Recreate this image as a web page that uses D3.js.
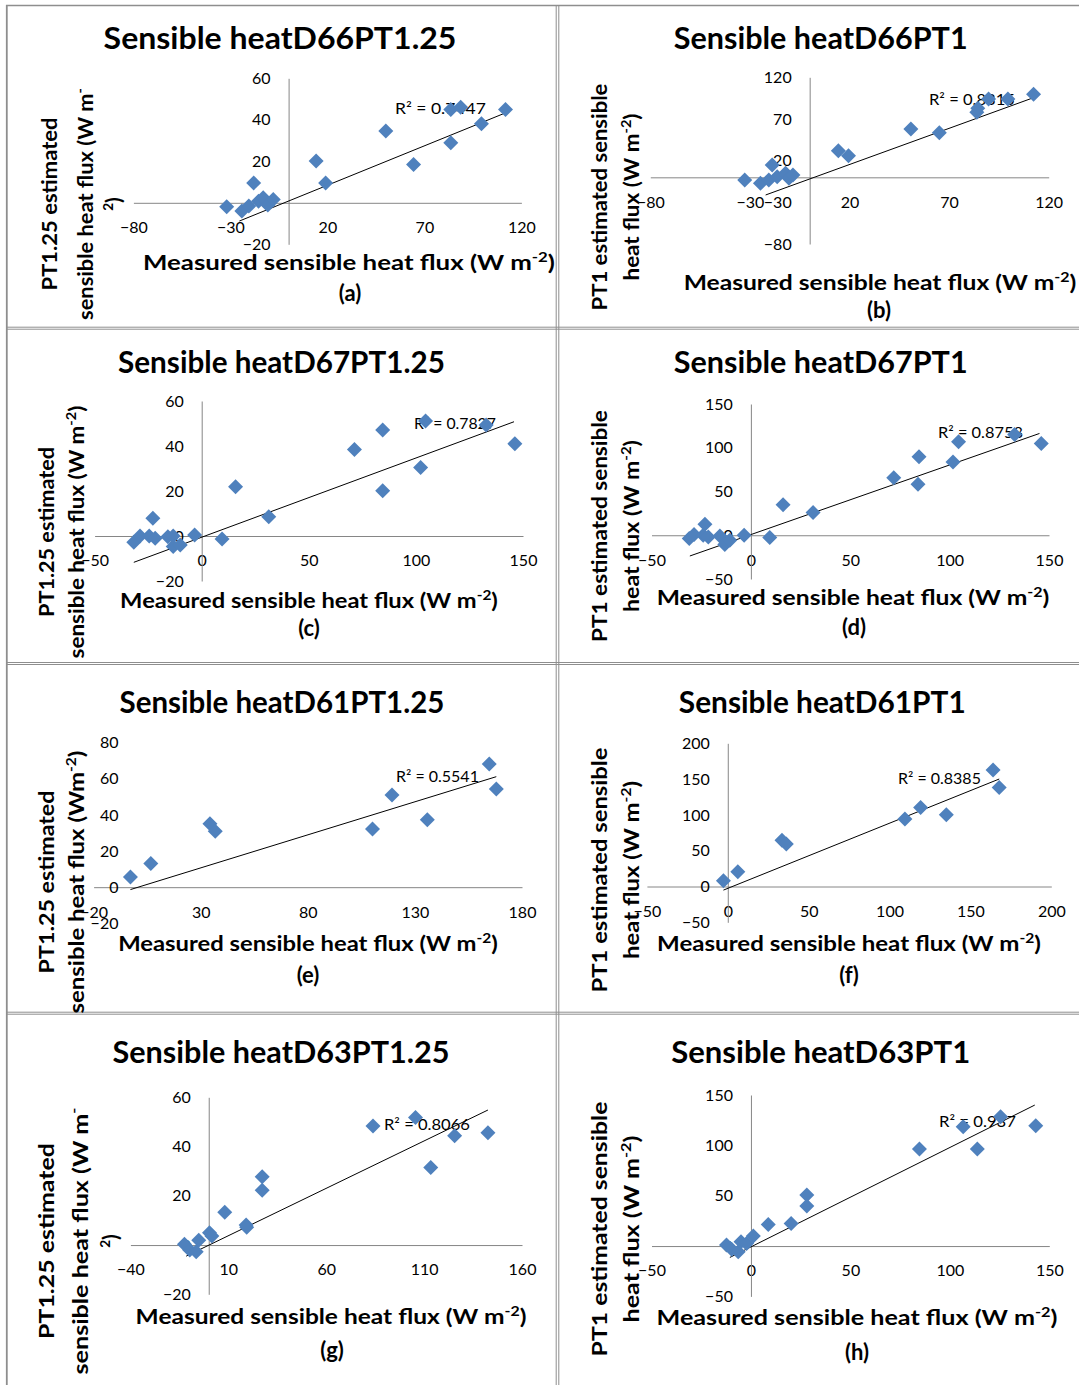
<!DOCTYPE html>
<html>
<head>
<meta charset="utf-8">
<script src="https://cdn.jsdelivr.net/npm/d3@7"></script>
<style>
    body { margin: 0; background: #fff; }
    svg { display: block; }
    text { font-family: Lato, "Open Sans", sans-serif; fill: #000; }
</style>
</head>
<body>
<svg id="chart" width="1079" height="1385"></svg>
<script>
(function () {
    'use strict';

    // measured (x) vs PT-estimated (y) sensible heat flux, W m-2
    var d66Pt125X = [-31.9, -24.1, -20.5, -18.0, -15.5, -13.1, -10.7, -7.9, 14.2, 19.1, 50.1, 64.4, 83.6, 83.6, 88.7, 99.4, 111.8];
    var d66Pt125Y = [-1.9, -4.0, -1.6, 9.6, 0.8, 2.4, -1.1, 1.6, 20.1, 9.6, 34.6, 18.5, 28.9, 45.0, 46.1, 38.1, 45.0];
    var d66Pt1X = [-32.6, -24.7, -20.5, -18.8, -16.3, -12.1, -10.4, -8.4, 14.4, 19.5, 50.8, 65.1, 83.9, 84.4, 89.8, 99.5, 112.4];
    var d66Pt1Y = [-3.2, -7.2, -3.2, 14.8, 0.8, 4.8, -1.2, 2.8, 32, 26, 58, 53.6, 78, 82.8, 94, 94, 99.6];
    var d67Pt125X = [-31.7, -28.8, -24.5, -22.8, -21.7, -15.8, -13.3, -13.3, -10, -3.3, 9.5, 15.8, 31.3, 71.3, 84.5, 84.5, 102.2, 104.5, 132.8, 146.2];
    var d67Pt125Y = [-2.8, 0, 0, 7.9, -1, -0.3, 0, -4.7, -4, 0.4, -1.3, 21.9, 8.6, 38.5, 47.1, 20.1, 30.4, 51.1, 49.3, 41];
    var d67Pt1X = [-31, -28.6, -23.1, -24, -21.4, -15.6, -13.1, -10.6, -3.4, 9.5, 16.2, 31.3, 71.9, 84.6, 84.1, 101.7, 104.5, 132.7, 146.1];
    var d67Pt1Y = [-3.8, 0.8, 12.6, 0, -1.9, -0.8, -10.7, -5.7, 0, -2.7, 35, 25.9, 65.8, 89.6, 58.2, 83.7, 106.8, 115.1, 104.8];
    var d61Pt125X = [-2.8, 6.7, 34.3, 36.8, 110.2, 119.3, 135.8, 164.7, 168];
    var d61Pt125Y = [5.7, 13.1, 35.1, 30.9, 32.2, 51.1, 37.3, 68.2, 54.4];
    var d61Pt1X = [-2.7, 6.2, 33.5, 36.2, 109.5, 119.2, 135.1, 164, 167.8];
    var d61Pt1Y = [7.9, 20.5, 64.7, 59.2, 94.1, 110.4, 100.1, 162.6, 138.3];
    var d63Pt125X = [-12.4, -9.7, -6.4, -5.1, 0.4, 1.6, 8.2, 19.1, 19.4, 27.3, 27.3, 83.9, 105.6, 113.4, 125.6, 142.6];
    var d63Pt125Y = [0.3, -2, -2.7, 2, 5, 3.7, 13.3, 8.1, 7.2, 27.7, 22.3, 48.3, 51.8, 31.5, 44.4, 45.6];
    var d63Pt1X = [-12.3, -9.7, -6.4, -5, -2.2, 1.2, 8.7, 20.2, 28.1, 28.1, 84.7, 106.7, 113.8, 125.5, 143.2];
    var d63Pt1Y = [1, -3.3, -5.6, 4.3, 2.6, 9.9, 21.5, 22.5, 50.7, 39.7, 96.4, 118.5, 96.4, 128.5, 119.5];

    // linear trendlines: [slope, intercept, x from, x to]
    var trendLines = [
        [0.380, 0.85, -25.4, 111.8],
        [0.868, -2.0, -22.1, 113.8],
        [0.352, -0.54, -31.7, 145.8],
        [0.796, 0.74, -30.7, 145.2],
        [0.366, -0.3, -2.8, 168],
        [0.91, -2.6, -2.7, 167.8],
        [0.385, -0.07, -11.5, 142.6],
        [0.987, -0.84, -10.6, 142.7]
    ];
    var r2Labels = ["R² = 0.7447", "R² = 0.8315", "R² = 0.7827", "R² = 0.8758",
        "R² = 0.5541", "R² = 0.8385", "R² = 0.8066", "R² = 0.937"];

    // tick labels
    var xTicksA = [-80, -30, 20, 70, 120], yTicksA = [-20, 0, 20, 40, 60];
    var xTicksB = [-80, -30, 20, 70, 120], yTicksB = [-80, -30, 20, 70, 120];
    var xTicksC = [-50, 0, 50, 100, 150], yTicksC = [-20, 0, 20, 40, 60];
    var xTicksD = [-50, 0, 50, 100, 150], yTicksD = [-50, 0, 50, 100, 150];
    var xTicksE = [-20, 30, 80, 130, 180], yTicksE = [-20, 0, 20, 40, 60, 80];
    var xTicksF = [-50, 0, 50, 100, 150, 200], yTicksF = [-50, 0, 50, 100, 150, 200];
    var xTicksG = [-40, 10, 60, 110, 160], yTicksG = [-20, 0, 20, 40, 60];
    var xTicksH = [-50, 0, 50, 100, 150], yTicksH = [-50, 0, 50, 100, 150];

    var titles = ["Sensible heatD66PT1.25", "Sensible heatD66PT1", "Sensible heatD67PT1.25", "Sensible heatD67PT1",
        "Sensible heatD61PT1.25", "Sensible heatD61PT1", "Sensible heatD63PT1.25", "Sensible heatD63PT1"];
    var tags = ["(a)", "(b)", "(c)", "(d)", "(e)", "(f)", "(g)", "(h)"];
    var xTitle = "Measured sensible heat flux (W m^{-2})";
    var yTitles = [
        ["PT1.25 estimated", "sensible heat flux (W m^{-}", "^{2})"],
        ["PT1 estimated sensible", "heat flux (W m^{-2})"],
        ["PT1.25 estimated", "sensible heat flux (W m^{-2})"],
        ["PT1 estimated sensible", "heat flux (W m^{-2})"],
        ["PT1.25 estimated", "sensible heat flux (Wm^{-2})"],
        ["PT1 estimated sensible", "heat flux (W m^{-2})"],
        ["PT1.25 estimated", "sensible heat flux (W m^{-}", "^{2})"],
        ["PT1 estimated sensible", "heat flux (W m^{-2})"]
    ];

    // page layout of each panel (pixels): ranges, text centres and text widths
    var panels = [
        {xs: d66Pt125X, ys: d66Pt125Y, xt: xTicksA, yt: yTicksA, xr: [133.4, 521.4], yr: [244.3, 78.3],
            title: [280, 38, 353], xTitle: [349, 263, 412], tag: [350, 293],
            yLines: [50, 86, 114], yLens: [173, 232, 0], yMid: 204, r2: [395, 109, 91]},
        {xs: d66Pt1X, ys: d66Pt1Y, xt: xTicksB, yt: yTicksB, xr: [650.3, 1048.7], yr: [244, 77.3],
            title: [820.7, 38, 294], xTitle: [880, 283, 393], tag: [879, 310],
            yLines: [600, 632], yLens: [227, 167], yMid: 197, r2: [929, 100, 86]},
        {xs: d67Pt125X, ys: d67Pt125Y, xt: xTicksC, yt: yTicksC, xr: [94.6, 523], yr: [581, 401],
            title: [281.5, 362, 327], xTitle: [309, 601, 378], tag: [309, 628],
            yLines: [46.4, 76.8], yLens: [170, 253], yMid: 532, r2: [414, 424, 82]},
        {xs: d67Pt1X, ys: d67Pt1Y, xt: xTicksD, yt: yTicksD, xr: [651.5, 1049], yr: [579, 404],
            title: [820.7, 362, 294], xTitle: [853, 598, 393], tag: [854, 627],
            yLines: [600, 632], yLens: [232, 172], yMid: 526, r2: [938, 433, 85]},
        {xs: d61Pt125X, ys: d61Pt125Y, xt: xTicksE, yt: yTicksE, xr: [93.6, 522], yr: [923.3, 742.7],
            title: [282, 702, 325], xTitle: [308, 944, 380], tag: [308, 975],
            yLines: [46.4, 76.8], yLens: [183, 263], yMid: 882, r2: [396, 777, 83], hideYLine: true},
        {xs: d61Pt1X, ys: d61Pt1Y, xt: xTicksF, yt: yTicksF, xr: [646.9, 1051.3], yr: [922.3, 743.3],
            title: [822.3, 702, 287], xTitle: [849, 944, 384], tag: [849, 975],
            yLines: [600, 632], yLens: [245, 178], yMid: 870, r2: [898, 779, 83]},
        {xs: d63Pt125X, ys: d63Pt125Y, xt: xTicksG, yt: yTicksG, xr: [130.4, 522], yr: [1294.3, 1097.3],
            title: [281, 1052, 337], xTitle: [331, 1317, 391], tag: [332, 1350],
            yLines: [46.4, 80.4, 110.7], yLens: [196, 267, 0], yMid: 1241, r2: [384, 1125, 86]},
        {xs: d63Pt1X, ys: d63Pt1Y, xt: xTicksH, yt: yTicksH, xr: [651.5, 1049.3], yr: [1296.4, 1095],
            title: [820.7, 1052, 299], xTitle: [857, 1318, 401], tag: [857, 1352],
            yLines: [600, 632], yLens: [255, 187], yMid: 1229, r2: [939, 1122, 77]}
    ];

    var svg = d3.select("svg#chart");
    var gridColor = "#8e8e8e";
    var titleSize = 30, axisTitleSize = 21, tagSize = 22, tickSize = 16, r2Size = 15.5;

    drawGrid();
    panels.forEach(drawPanel);

    function drawGrid() {
        var g = svg.append("g").attr("stroke", gridColor).attr("fill", "none");
        g.append("line").attr("x1", 6).attr("x2", 1079).attr("y1", 5.5).attr("y2", 5.5).attr("stroke-width", 1.5);
        g.append("line").attr("x1", 6.8).attr("x2", 6.8).attr("y1", 5).attr("y2", 1385).attr("stroke-width", 1.8);
        [556.2, 558.8].forEach(function (x) {
            g.append("line").attr("x1", x).attr("x2", x).attr("y1", 5).attr("y2", 1385);
        });
        [327.2, 329.2, 662.5, 664.5, 1012.2, 1014.2].forEach(function (y) {
            g.append("line").attr("x1", 6).attr("x2", 1079).attr("y1", y).attr("y2", y);
        });
    }

    // plain text with ^{...} superscript runs
    function richText(sel, str, fs) {
        var parts = str.split(/(\^\{[^}]*\})/).filter(function (s) { return s.length; });
        var raised = false;
        parts.forEach(function (p) {
            var sup = p.indexOf("^{") === 0;
            var t = sel.append("tspan").text(sup ? p.slice(2, -1) : p);
            if (sup) {
                t.attr("font-size", fs * 0.65);
                if (!raised) t.attr("dy", -fs * 0.4);
                raised = true;
            } else if (raised) {
                t.attr("dy", fs * 0.4);
                raised = false;
            }
        });
    }

    // text placed at (cx, cy), optionally rotated, squeezed/stretched to the measured width
    function label(g, str, cx, cy, fs, opts) {
        opts = opts || {};
        var t = g.append("text")
            .attr("y", fs * 0.35)
            .attr("text-anchor", opts.anchor || "middle")
            .attr("font-size", fs)
            .attr("font-weight", opts.weight || 400);
        if (opts.fill) t.attr("fill", opts.fill);
        richText(t, str, fs);
        var sx = 1;
        if (opts.width) sx = opts.width / t.node().getComputedTextLength();
        t.attr("transform", "translate(" + cx + "," + cy + ")" +
            (opts.rotate ? " rotate(-90)" : "") + " scale(" + sx + ",1)");
        return t;
    }

    function drawPanel(p, i) {
        var g = svg.append("g").attr("class", "panel");
        var x = d3.scaleLinear().domain([p.xt[0], p.xt[p.xt.length - 1]]).range(p.xr);
        var y = d3.scaleLinear().domain([p.yt[0], p.yt[p.yt.length - 1]]).range(p.yr);

        label(g, titles[i], p.title[0], p.title[1], titleSize, {weight: 700, width: p.title[2]});

        // axes cross at zero
        var xAxis = g.append("g")
            .attr("transform", "translate(0," + y(0) + ")")
            .call(d3.axisBottom(x).tickValues(p.xt).tickSize(0).tickSizeOuter(0).tickPadding(19));
        var yAxis = g.append("g")
            .attr("transform", "translate(" + x(0) + ",0)")
            .call(d3.axisLeft(y).tickValues(p.yt).tickSize(0).tickSizeOuter(0).tickPadding(18));

        [xAxis, yAxis].forEach(function (a) {
            a.attr("font-family", null).attr("font-size", tickSize);
            a.select(".domain").attr("stroke", "#868686").attr("stroke-width", 1);
            a.selectAll(".tick text").attr("fill", "#2b2b2b");
        });
        if (p.hideYLine) yAxis.select(".domain").remove();

        // axis titles
        label(g, xTitle, p.xTitle[0], p.xTitle[1], axisTitleSize, {weight: 700, width: p.xTitle[2]});
        label(g, tags[i], p.tag[0], p.tag[1], tagSize, {weight: 700});
        yTitles[i].forEach(function (line, k) {
            label(g, line, p.yLines[k], p.yMid, axisTitleSize,
                {weight: 700, rotate: true, width: p.yLens[k] || null});
        });

        // trendline
        var tr = trendLines[i];
        var line = d3.line()
            .x(function (d) { return x(d); })
            .y(function (d) { return y(tr[0] * d + tr[1]); });
        g.append("path")
            .attr("d", line([tr[2], tr[3]]))
            .attr("fill", "none")
            .attr("stroke", "#000")
            .attr("stroke-width", 1);

        label(g, r2Labels[i], p.r2[0], p.r2[1], r2Size, {anchor: "start", width: p.r2[2], fill: "#222"});

        // diamond markers
        var pts = p.xs.map(function (v, j) { return {x: v, y: p.ys[j]}; });
        g.selectAll(".pt")
            .data(pts)
            .enter().append("path")
            .attr("class", "pt")
            .attr("d", "M0,-7.5L7.5,0L0,7.5L-7.5,0Z")
            .attr("transform", function (d) {
                return "translate(" + x(d.x) + "," + y(d.y) + ")";
            })
            .attr("fill", "#4f81bd");
    }

})();
</script>
</body>
</html>
